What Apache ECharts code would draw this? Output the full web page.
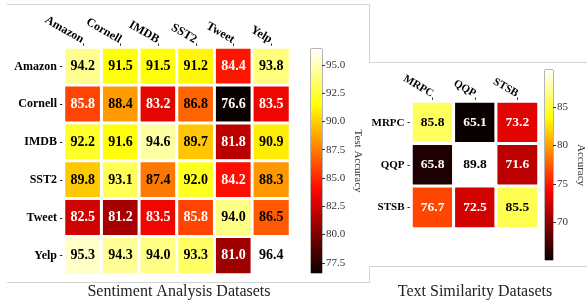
<!DOCTYPE html>
<html>
<head>
<meta charset="utf-8">
<script src="https://cdn.jsdelivr.net/npm/echarts@6/dist/echarts.min.js"></script>
<style>
html, body { margin: 0; padding: 0; background: #fff; }
#main { width: 587px; height: 300px; }
</style>
</head>
<body>
<div id="main"></div>
<script>
// sentiment analysis: rows = source, cols = target
var sentNames = ['Amazon', 'Cornell', 'IMDB', 'SST2', 'Tweet', 'Yelp'];
var sentValues = [
	[94.2, 91.5, 91.5, 91.2, 84.4, 93.8],
	[85.8, 88.4, 83.2, 86.8, 76.6, 83.5],
	[92.2, 91.6, 94.6, 89.7, 81.8, 90.9],
	[89.8, 93.1, 87.4, 92.0, 84.2, 88.3],
	[82.5, 81.2, 83.5, 85.8, 94.0, 86.5],
	[95.3, 94.3, 94.0, 93.3, 81.0, 96.4]
];
// text similarity
var simNames = ['MRPC', 'QQP', 'STSB'];
var simValues = [
	[85.8, 65.1, 73.2],
	[65.8, 89.8, 71.6],
	[76.7, 72.5, 85.5]
];
// colorbar ticks
var sentTicks = [77.5, 80, 82.5, 85, 87.5, 90, 92.5, 95];
var simTicks = [70, 75, 80, 85];

// matplotlib "hot", low -> high
var hotColors = ['#0b0000', '#5e0000', '#b20000', '#ff0700', '#ff5a00', '#ffae00', '#ffff04', '#ffff82', '#ffffff'];

var SERIF = 'Liberation Serif';

function flat(arr) {
	var out = [];
	for (var i = 0; i < arr.length; i++) out = out.concat(arr[i]);
	return out;
}

// build heatmap items, label white on dark cells
function cells(values, lo, hi) {
	var res = [];
	for (var i = 0; i < values.length; i++) {
		for (var j = 0; j < values[i].length; j++) {
			var v = values[i][j];
			var t = (v - lo) / (hi - lo);
			res.push({ value: [j, i, v], label: { color: t < 0.48 ? '#fff' : '#000' } });
		}
	}
	return res;
}

// gradient for colorbar, top = high
function barGradient() {
	var stops = [];
	var n = hotColors.length - 1;
	for (var k = 0; k <= n; k++) {
		stops.push({ offset: k / n, color: hotColors[n - k] });
	}
	return { type: 'linear', x: 0, y: 0, x2: 0, y2: 1, colorStops: stops };
}

var sMin = Math.min.apply(null, flat(sentValues));
var sMax = Math.max.apply(null, flat(sentValues));
var tMin = Math.min.apply(null, flat(simValues));
var tMax = Math.max.apply(null, flat(simValues));

var tickStyle = { show: true, alignWithLabel: true, length: 4, lineStyle: { color: '#222', width: 1 } };

function catX(gi, names, fs) {
	return {
		type: 'category', gridIndex: gi, data: names, position: 'top',
		axisLine: { show: false },
		axisTick: tickStyle,
		axisLabel: { rotate: 30, margin: 7, fontFamily: SERIF, fontWeight: 'bold', fontSize: fs, color: '#000' },
		splitLine: { show: false }
	};
}
function catY(gi, names, fs) {
	return {
		type: 'category', gridIndex: gi, data: names, inverse: true,
		axisLine: { show: false },
		axisTick: tickStyle,
		axisLabel: { margin: 7, fontFamily: SERIF, fontWeight: 'bold', fontSize: fs, color: '#000' },
		splitLine: { show: false }
	};
}
function cbX(gi) {
	return { type: 'category', gridIndex: gi, data: ['c'], show: false };
}
function cbY(gi, lo, hi, ticks, dec, name, gap) {
	return {
		type: 'value', gridIndex: gi, min: lo, max: hi, position: 'right',
		name: name, nameLocation: 'middle', nameRotate: -90, nameGap: gap,
		nameTextStyle: { fontFamily: SERIF, fontSize: 11, color: '#333' },
		axisLine: { show: false },
		axisTick: { show: true, length: 3, customValues: ticks, lineStyle: { color: '#333' } },
		axisLabel: {
			customValues: ticks, margin: 4, fontFamily: SERIF, fontSize: 11, color: '#333',
			formatter: function(v) { return v.toFixed(dec); }
		},
		splitLine: { show: false }
	};
}

var myChart = echarts.init(document.getElementById('main'));

var option = {
	backgroundColor: '#fff',
	animation: false,
	title: [
		{ text: 'Sentiment Analysis Datasets', left: 174, top: 279, textAlign: 'center',
		  textStyle: { fontFamily: SERIF, fontWeight: 'normal', fontSize: 16, color: '#222' } },
		{ text: 'Text Similarity Datasets', left: 470, top: 279, textAlign: 'center',
		  textStyle: { fontFamily: SERIF, fontWeight: 'normal', fontSize: 16, color: '#222' } }
	],
	grid: [
		{ left: 64, top: 47.5, width: 226, height: 227 },
		{ left: 311, top: 49, width: 11, height: 224, show: true, borderColor: '#444', borderWidth: 0.8, backgroundColor: 'transparent' },
		{ left: 411.5, top: 101.5, width: 127, height: 127 },
		{ left: 545, top: 70, width: 9.5, height: 190, show: true, borderColor: '#444', borderWidth: 0.8, backgroundColor: 'transparent' }
	],
	xAxis: [catX(0, sentNames, 12), cbX(1), catX(2, simNames, 11), cbX(3)],
	yAxis: [
		catY(0, sentNames, 12),
		cbY(1, sMin, sMax, sentTicks, 1, 'Test Accuracy', 30),
		catY(2, simNames, 11),
		cbY(3, tMin, tMax, simTicks, 0, 'Accuracy', 22)
	],
	visualMap: [
		{ show: false, seriesIndex: 0, min: sMin, max: sMax, inRange: { color: hotColors } },
		{ show: false, seriesIndex: 1, min: tMin, max: tMax, inRange: { color: hotColors } }
	],
	series: [
		{
			type: 'heatmap', xAxisIndex: 0, yAxisIndex: 0,
			data: cells(sentValues, sMin, sMax),
			itemStyle: { borderColor: '#fff', borderWidth: 3 },
			label: { show: true, fontFamily: SERIF, fontWeight: 'bold', fontSize: 14,
				formatter: function(p) { return p.value[2].toFixed(1); } }
		},
		{
			type: 'heatmap', xAxisIndex: 2, yAxisIndex: 2,
			data: cells(simValues, tMin, tMax),
			itemStyle: { borderColor: '#fff', borderWidth: 3 },
			label: { show: true, fontFamily: SERIF, fontWeight: 'bold', fontSize: 13.5,
				formatter: function(p) { return p.value[2].toFixed(1); } }
		},
		// colorbars: hidden base bar + gradient bar stacked on top
		{ type: 'bar', xAxisIndex: 1, yAxisIndex: 1, stack: 'cb1', barWidth: '100%', silent: true,
		  data: [sMin], itemStyle: { color: 'transparent' } },
		{ type: 'bar', xAxisIndex: 1, yAxisIndex: 1, stack: 'cb1', barWidth: '100%', silent: true,
		  data: [sMax - sMin], itemStyle: { color: barGradient() } },
		{ type: 'bar', xAxisIndex: 3, yAxisIndex: 3, stack: 'cb2', barWidth: '100%', silent: true,
		  data: [tMin], itemStyle: { color: 'transparent' } },
		{ type: 'bar', xAxisIndex: 3, yAxisIndex: 3, stack: 'cb2', barWidth: '100%', silent: true,
		  data: [tMax - tMin], itemStyle: { color: barGradient() } }
	],
	graphic: [
		{ type: 'polyline', silent: true, shape: { points: [[7, 4.5], [369.5, 4.5], [369.5, 62.5], [587, 62.5]] },
		  style: { stroke: '#d4d4d4', fill: null, lineWidth: 1 } },
		{ type: 'polyline', silent: true, shape: { points: [[7, 282.5], [369.5, 282.5], [369.5, 266.5], [587, 266.5]] },
		  style: { stroke: '#d4d4d4', fill: null, lineWidth: 1 } }
	]
};

myChart.setOption(option);
</script>
</body>
</html>
